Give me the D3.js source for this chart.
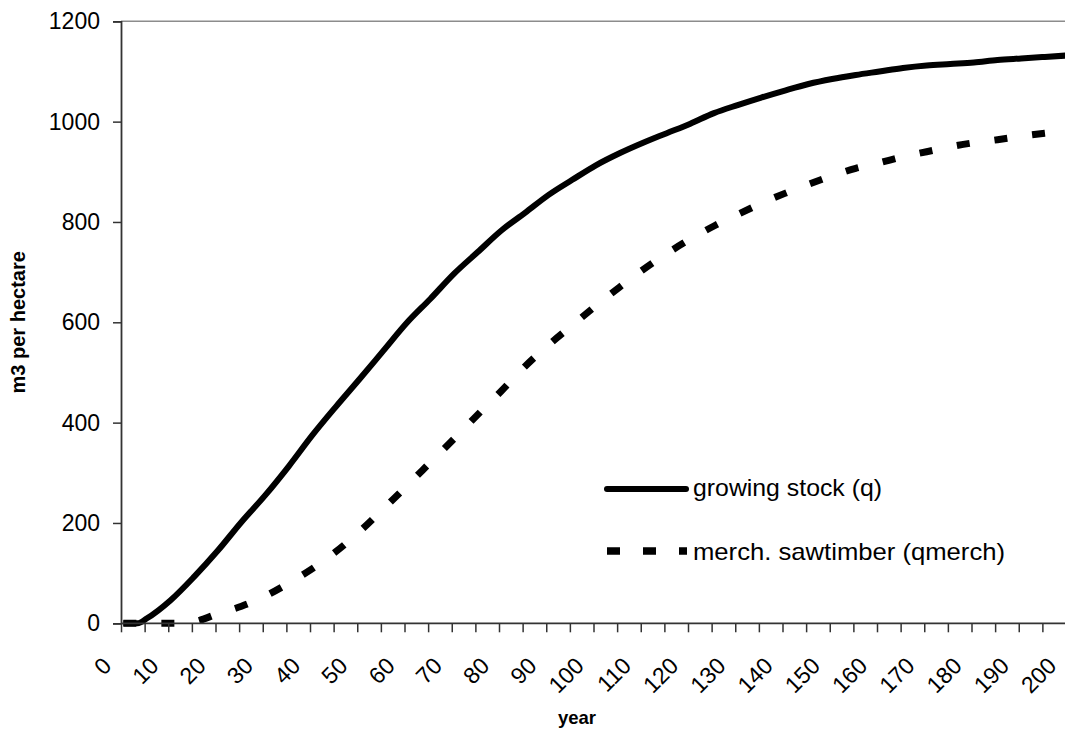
<!DOCTYPE html>
<html><head><meta charset="utf-8">
<script src="https://cdn.jsdelivr.net/npm/d3@7"></script>
<style>
html,body{margin:0;padding:0;background:#fff;}
svg{display:block;font-family:"Liberation Sans",Arial,Helvetica,sans-serif;}
</style></head>
<body>
<svg id="chart" width="1065" height="733"></svg>
<script>
// ---- data ----
const growingYears = [0,3,5,10,15,20,25,30,35,40,45,50,55,60,65,70,75,80,85,90,95,100,105,110,115,120,125,130,135,140,145,150,155,160,165,170,175,180,185,190,195,200];
const growingStock = [0,0,10,46,93,145,202,255,313,375,432,487,543,599,647,697,740,783,818,854,884,913,937,958,977,996,1017,1033,1048,1062,1075,1085,1093,1100,1107,1112,1115,1118,1123,1126,1129,1132];
const merchYears = [0,5,10,13,15,20,25,30,35,40,45,50,55,60,65,70,75,80,85,90,95,100,105,110,115,120,125,130,135,140,145,150,155,160,165,170,175,180,185,190,195,200];
const merchSawtimber = [0,0,0,0,3,19,34,54,80,109,143,183,228,274,321,368,416,463,512,555,594,633,670,705,737,766,792,815,837,857,875,892,907,918,930,940,950,958,964,971,977,982];
const yTicks = [0,200,400,600,800,1000,1200];
const xLabels = [0,10,20,30,40,50,60,70,80,90,100,110,120,130,140,150,160,170,180,190,200];
const seriesNames = ["growing stock (q)","merch. sawtimber (qmerch)"];
const yTitle = "m3 per hectare";
const xTitle = "year";

// ---- layout ----
const svg = d3.select("#chart");
const plotLeft = 121, plotTop = 21.3, plotBottom = 623.3, plotRight = 1065;
const catW = 4.725, nCat = 205;
const x = d3.scaleLinear().domain([-0.5, nCat - 0.5]).range([plotLeft, plotLeft + nCat * catW]);
const y = d3.scaleLinear().domain([0, 1200]).range([plotBottom, plotTop]);

// plot border (gray)
svg.append("line").attr("x1", plotLeft).attr("x2", plotRight + 2).attr("y1", plotTop).attr("y2", plotTop)
  .attr("stroke", "#8c8c8c").attr("stroke-width", 1.6);

// series
const line = d3.line().x(d => x(d[0])).y(d => y(d[1])).curve(d3.curveMonotoneX);
svg.append("path").datum(growingYears.map((v, i) => [v, growingStock[i]]))
  .attr("d", line).attr("fill", "none").attr("stroke", "#000").attr("stroke-width", 6)
  .attr("stroke-linejoin", "round");
svg.append("path").datum(merchYears.map((v, i) => [v, merchSawtimber[i]]))
  .attr("d", line).attr("fill", "none").attr("stroke", "#000").attr("stroke-width", 7)
  .attr("stroke-dasharray", "13,25");

// y axis
const yAxis = d3.axisLeft(y).tickValues(yTicks).tickSize(8).tickPadding(13).tickFormat(d3.format("d"));
const gy = svg.append("g").attr("transform", `translate(${plotLeft},0)`).call(yAxis);
gy.select(".domain").attr("stroke", "#333").attr("stroke-width", 1.8);
gy.selectAll(".tick line").attr("stroke", "#333").attr("stroke-width", 1.5);
gy.selectAll(".tick text").attr("font-size", 23).attr("fill", "#000")
  .attr("font-family", "Liberation Sans, Arial, sans-serif");

// x axis
const xTickVals = d3.range(0, 42).map(k => 5 * k - 0.5);
const xAxis = d3.axisBottom(x).tickValues(xTickVals).tickSize(9).tickFormat("");
const gx = svg.append("g").attr("transform", `translate(0,${plotBottom})`).call(xAxis);
gx.select(".domain").attr("d", `M${plotLeft},0H${plotRight + 5}`).attr("stroke", "#333").attr("stroke-width", 1.8);
gx.selectAll(".tick line").attr("stroke", "#333").attr("stroke-width", 1.5);

// x labels rotated
svg.append("g").selectAll("text").data(xLabels).join("text")
  .attr("transform", d => `translate(${x(d) - 10.5},${plotBottom + 44}) rotate(-45)`)
  .attr("text-anchor", "end").attr("font-size", 23).attr("fill", "#000")
  .text(d => d);

// axis titles
svg.append("text").attr("transform", `translate(25,${(plotTop + plotBottom) / 2}) rotate(-90)`)
  .attr("text-anchor", "middle").attr("font-size", 20).attr("font-weight", "bold").text(yTitle);
svg.append("text").attr("x", 577).attr("y", 724).attr("text-anchor", "middle")
  .attr("font-size", 18.5).attr("font-weight", "bold").text(xTitle);

// legend
const lg = svg.append("g");
lg.append("line").attr("x1", 607).attr("x2", 686).attr("y1", 489).attr("y2", 489)
  .attr("stroke", "#000").attr("stroke-width", 6).attr("stroke-linecap", "round");
lg.append("line").attr("x1", 607).attr("x2", 687).attr("y1", 551).attr("y2", 551)
  .attr("stroke", "#000").attr("stroke-width", 7.5).attr("stroke-dasharray", "13,23");
lg.append("text").attr("x", 693).attr("y", 496).attr("font-size", 24)
  .attr("textLength", 189).attr("lengthAdjust", "spacingAndGlyphs").text(seriesNames[0]);
lg.append("text").attr("x", 693).attr("y", 559.5).attr("font-size", 24)
  .attr("textLength", 312).attr("lengthAdjust", "spacingAndGlyphs").text(seriesNames[1]);
</script>
</body></html>
